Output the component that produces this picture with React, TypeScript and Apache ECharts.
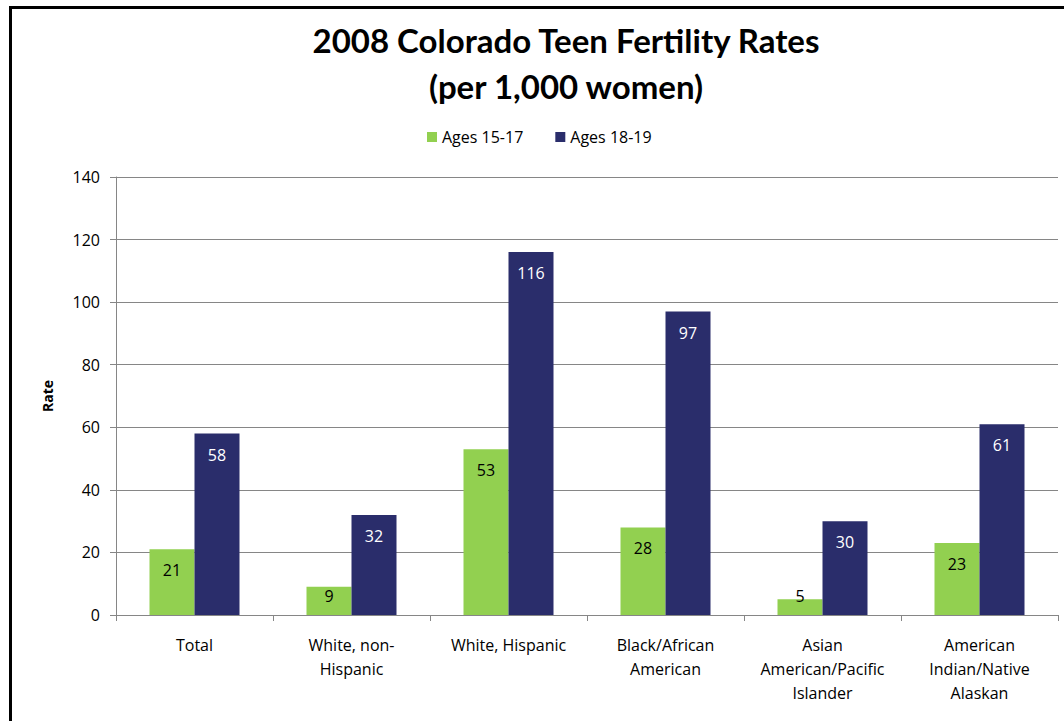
import React, { useEffect, useRef } from "react";
import * as echarts from "echarts";

const categories = [
  "Total",
  "White, non-\nHispanic",
  "White, Hispanic",
  "Black/African\nAmerican",
  "Asian\nAmerican/Pacific\nIslander",
  "American\nIndian/Native\nAlaskan",
];
const ages1517 = [21, 9, 53, 28, 5, 23];
const ages1819 = [58, 32, 116, 97, 30, 61];
const yTicks = [0, 20, 40, 60, 80, 100, 120, 140];

const FONT = "Lato";
const SMALL = "Open Sans";

export default function App() {
  const ref = useRef<HTMLDivElement>(null);
  useEffect(() => {
    const chart = echarts.init(ref.current!, null, { renderer: "svg" });
    const greenData = ages1517.map((v) =>
      v < 8
        ? { value: v, label: { position: "top", distance: -5, color: "#000" } }
        : v < 12
        ? { value: v, label: { distance: 1 } }
        : v
    );
    chart.setOption({
      animation: false,
      backgroundColor: "#fff",
      title: {
        text: "2008 Colorado Teen Fertility Rates\n(per 1,000 women)",
        left: 561,
        textAlign: "center",
        top: 12,
        textStyle: {
          fontFamily: FONT,
          fontWeight: "bold",
          fontSize: 33,
          lineHeight: 46,
          color: "#000",
        },
      },
      legend: {
        top: 124,
        left: 422,
        itemWidth: 10,
        itemHeight: 10,
        itemGap: 32,
        icon: "rect",
        textStyle: { fontFamily: SMALL, fontSize: 16, color: "#000" },
        data: ["Ages 15-17", "Ages 18-19"],
      },
      grid: { left: 116, right: 6, top: 177, bottom: 106, containLabel: false },
      xAxis: {
        type: "category",
        data: categories,
        axisLine: { lineStyle: { color: "#868686", width: 1 } },
        axisTick: { show: true, length: 6, lineStyle: { color: "#868686" } },
        axisLabel: {
          fontFamily: SMALL,
          fontSize: 16,
          color: "#000",
          margin: 18,
          lineHeight: 24,
          interval: 0,
        },
      },
      yAxis: {
        type: "value",
        min: 0,
        max: 140,
        interval: 20,
        name: "Rate",
        nameLocation: "middle",
        nameGap: 62,
        nameTextStyle: { fontFamily: SMALL, fontSize: 14, fontWeight: "bold", color: "#000" },
        axisLine: { show: true, lineStyle: { color: "#868686" } },
        axisTick: { show: true, length: 6, lineStyle: { color: "#868686" } },
        axisLabel: {
          fontFamily: SMALL,
          fontSize: 16,
          color: "#000",
          margin: 16,
          formatter: (v: number) => (yTicks.includes(v) ? String(v) : ""),
        },
        splitLine: { show: true, lineStyle: { color: "#868686", width: 1 } },
      },
      series: [
        {
          name: "Ages 15-17",
          type: "bar",
          data: greenData,
          barWidth: 45,
          barGap: "0%",
          itemStyle: { color: "#92d050" },
          label: {
            show: true,
            position: "insideTop",
            distance: 13,
            fontFamily: SMALL,
            fontSize: 16,
            color: "#000",
          },
        },
        {
          name: "Ages 18-19",
          type: "bar",
          data: ages1819,
          barWidth: 45,
          barGap: "0%",
          itemStyle: { color: "#2a2d6b" },
          label: {
            show: true,
            position: "insideTop",
            distance: 13,
            fontFamily: SMALL,
            fontSize: 16,
            color: "#fff",
          },
        },
      ],
      graphic: [
        { type: "rect", shape: { x: 9, y: 6, width: 3, height: 715 }, style: { fill: "#000" } },
        { type: "rect", shape: { x: 9, y: 6, width: 1055, height: 3 }, style: { fill: "#000" } },
      ],
    });
    return () => chart.dispose();
  }, []);
  return (
    <div
      ref={ref}
      style={{ position: "fixed", left: 0, top: 0, width: 1064, height: 721 }}
    />
  );
}
